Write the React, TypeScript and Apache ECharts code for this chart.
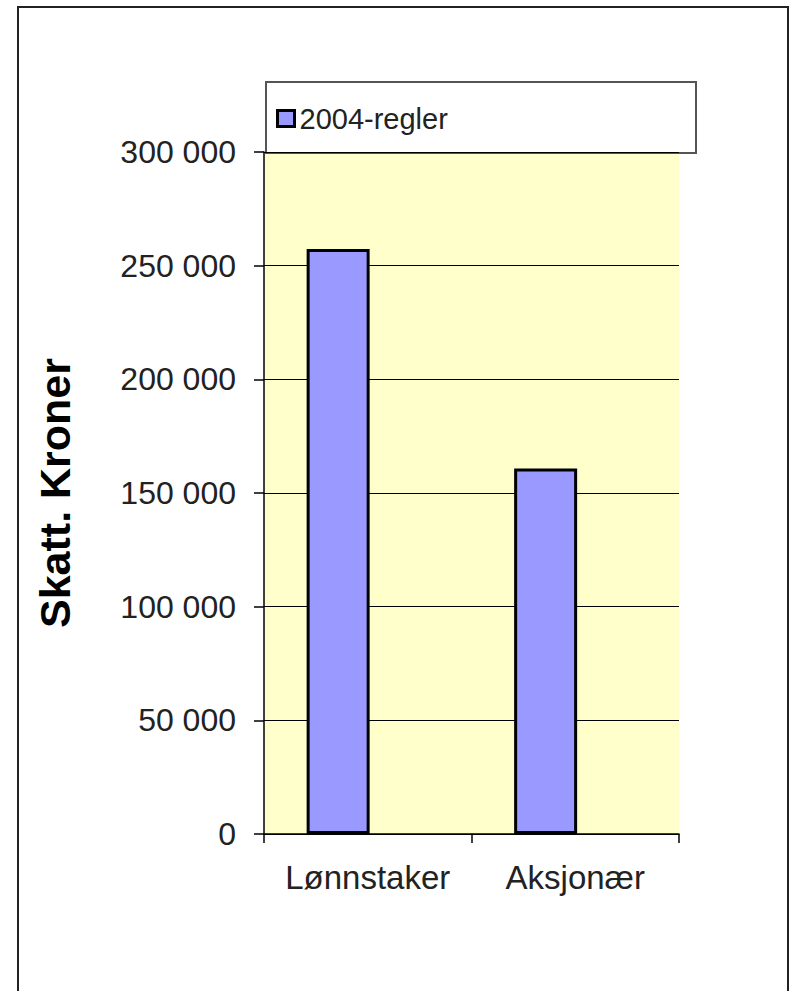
import React, { useEffect, useRef } from "react";
import * as echarts from "echarts";

const categories = ["Lønnstaker", "Aksjonær"];
const seriesName = "2004-regler";
const values2004 = [257300, 160800];
const emptySeries = ["-", "-"];
const yTitle = "Skatt. Kroner";

const FONT = "'Liberation Sans', Arial, sans-serif";

function fmt(v: number): string {
  return String(v).replace(/\B(?=(\d{3})+(?!\d))/g, " ");
}

export default function App() {
  const ref = useRef<HTMLDivElement>(null);
  useEffect(() => {
    if (!ref.current) return;
    const chart = echarts.init(ref.current, null, { renderer: "svg" });
    chart.setOption({
      animation: false,
      backgroundColor: "#ffffff",
      grid: {
        left: 264,
        right: 111,
        top: 152,
        bottom: 157,
        show: true,
        backgroundColor: "#FFFFCC",
        borderWidth: 0,
      },
      legend: {
        data: [seriesName],
        left: 271,
        top: 99,
        itemWidth: 17,
        itemHeight: 16,
        itemGap: 10,
        icon: "rect",
        itemStyle: { color: "#9999FF", borderColor: "#000", borderWidth: 3 },
        textStyle: { fontFamily: FONT, fontSize: 29, color: "#222", padding: [0, 0, 0, 0] },
      },
      graphic: [
        {
          type: "rect",
          shape: { x: 18, y: 7, width: 770, height: 1010 },
          style: { fill: "none", stroke: "#222", lineWidth: 2 },
          silent: true,
          z: 100,
        },
        {
          type: "rect",
          shape: { x: 266, y: 82, width: 430, height: 71 },
          style: { fill: "#fff", stroke: "#555", lineWidth: 2 },
          silent: true,
          z: 0,
        },
      ],
      xAxis: {
        type: "category",
        data: categories,
        axisLine: { show: true, lineStyle: { color: "#000", width: 1.5 } },
        axisTick: { show: true, length: 9, lineStyle: { color: "#000", width: 1.5 } },
        axisLabel: { interval: 0, fontFamily: FONT, fontSize: 33, color: "#222", margin: 27 },
        splitLine: { show: false },
      },
      yAxis: {
        type: "value",
        min: 0,
        max: 300000,
        interval: 50000,
        name: yTitle,
        nameLocation: "middle",
        nameGap: 188,
        nameTextStyle: { fontFamily: FONT, fontSize: 43, fontWeight: "bold", color: "#000" },
        axisLine: { show: true, lineStyle: { color: "#000", width: 1.5 } },
        axisTick: { show: true, length: 10, lineStyle: { color: "#000", width: 1.5 } },
        axisLabel: {
          fontFamily: FONT,
          fontSize: 32,
          color: "#222",
          margin: 28,
          formatter: (v: number) => fmt(v),
        },
        splitLine: { show: true, lineStyle: { color: "#000", width: 1 } },
      },
      series: [
        {
          name: seriesName,
          type: "bar",
          data: values2004,
          barWidth: 63,
          barGap: "-6%",
          itemStyle: { color: "#9999FF", borderColor: "#000", borderWidth: 3 },
          z: 3,
        },
        {
          name: "",
          type: "bar",
          data: emptySeries,
          barWidth: 63,
          itemStyle: { color: "transparent" },
        },
      ],
    });
    return () => chart.dispose();
  }, []);
  return (
    <div
      ref={ref}
      style={{ position: "fixed", left: 0, top: 0, width: 790, height: 991 }}
    />
  );
}
